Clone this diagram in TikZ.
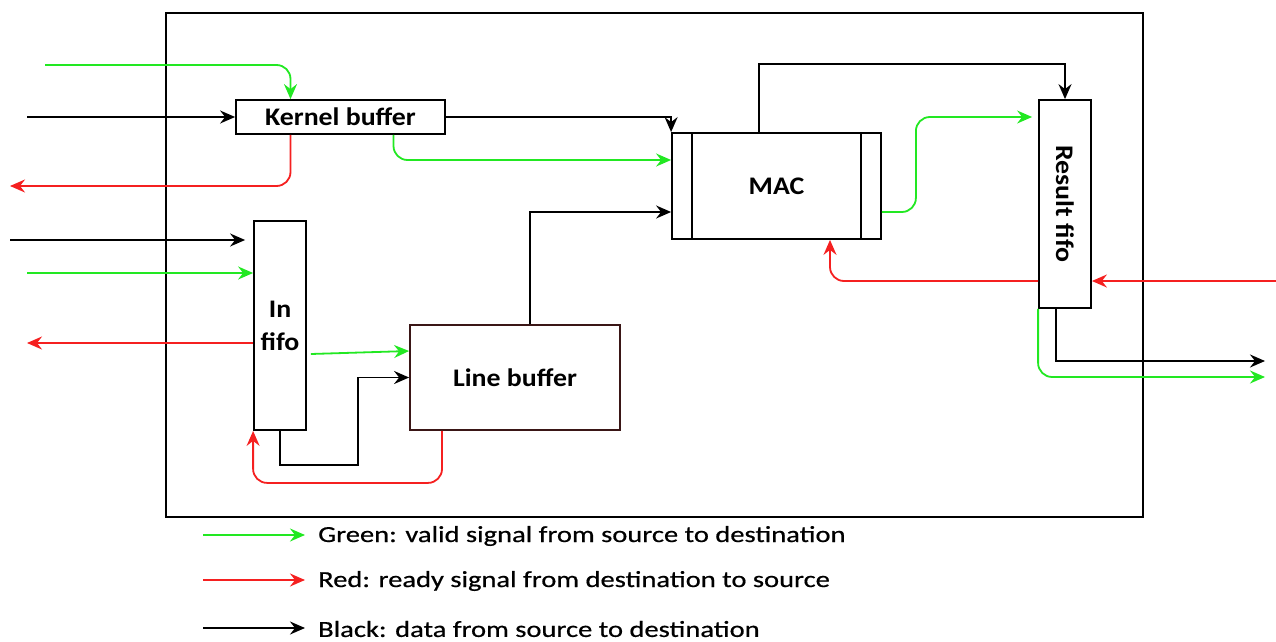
\documentclass[tikz,border=0pt]{standalone}
\usepackage{fontspec}
\setmainfont[FakeStretch=1.1]{Carlito}
\newfontfamily\legfont[FakeStretch=1.24,FakeBold=0.6]{Carlito}
\usetikzlibrary{arrows.meta,calc}
\definecolor{sgreen}{HTML}{22E822}
\definecolor{sred}{HTML}{F52020}
\definecolor{lbbord}{HTML}{3A1616}
\begin{document}
\begin{tikzpicture}[x=1pt,y=-1pt,
  box/.style={draw=black,line width=1.8pt,fill=white,inner sep=0pt,font=\bfseries\fontsize{25.3}{28}\selectfont,align=center},
  con/.style={line width=1.8pt,-{Stealth[length=15pt,width=13pt,inset=5pt]}},
  bk/.style={con,draw=black},
  gr/.style={con,draw=sgreen},
  rd/.style={con,draw=sred},
  rc/.style={rounded corners=14pt},
  legtext/.style={anchor=west,inner sep=0pt,font=\legfont\fontsize{23}{27}\selectfont}]
\useasboundingbox (0,0) rectangle (1276,642);
% outer frame
\node[draw=black,line width=1.8pt,minimum width=977pt,minimum height=504pt,inner sep=0pt] (frame) at (654.5,265) {};
% blocks
\node[box,minimum width=209pt,minimum height=34pt] (kb) at (340.5,117) {Kernel buffer};
\node[box,minimum width=209pt,minimum height=106pt] (mac) at (776.5,186) {MAC};
\draw[line width=1.8pt] ([xshift=21pt]mac.north west) -- ([xshift=21pt]mac.south west);
\draw[line width=1.8pt] ([xshift=-21pt]mac.north east) -- ([xshift=-21pt]mac.south east);
\node[box,minimum width=52pt,minimum height=208pt] (rf) at (1065,204) {};
\node[font=\bfseries\fontsize{25.3}{28}\selectfont,rotate=-90] (rft) at (rf.center) {Result fifo};
\node[box,minimum width=52pt,minimum height=209pt] (if) at (280,325.5) {In\\[5pt]fifo};
\node[box,draw=lbbord,minimum width=210pt,minimum height=105pt] (lb) at (515,377.5) {Line buffer};
% free ends
\coordinate (gkin) at (45,65);
\coordinate (bkin) at (27,117);
\coordinate (rkout) at (10,186);
\coordinate (bifin) at (10,240);
\coordinate (gifin) at (27,273);
\coordinate (rifout) at (27,343);
\coordinate (bturn) at (358,465);
\coordinate (rrfin) at (1276,281);
\coordinate (brfout) at (1265,361);
\coordinate (grfout) at (1265,377);
% kernel buffer connectors
\draw[gr,rc] (gkin) -| ([xshift=-50pt]kb.north);
\draw[bk] (bkin) -- (kb.west);
\draw[rd,rc] ([xshift=-50pt]kb.south) |- (rkout);
\draw[bk] (kb.east) -| (mac.north west);
\draw[gr,rc] ([xshift=53pt]kb.south) |- ([yshift=26pt]mac.west);
% line buffer to MAC
\draw[bk] ([xshift=15pt]lb.north) |- ([yshift=-26pt]mac.west);
% MAC to result fifo
\draw[bk] ([xshift=-17.5pt]mac.north) |- ([yshift=35pt]rf.north) -- (rf.north);
\draw[gr,rc,shorten >=6pt] ([yshift=-26pt]mac.east) -- ++(34,0) |- ([yshift=87pt]rf.west);
\draw[rd] (rrfin) -- ([yshift=-77pt]rf.east);
\draw[rd,rc] ([yshift=-77pt]rf.west) -| ([xshift=53.5pt]mac.south);
\draw[bk] ([xshift=-9pt]rf.south) |- (brfout);
\draw[gr,rc] (rf.south west) |- (grfout);
% in fifo connectors
\draw[bk,shorten >=8pt] (bifin) -- ([yshift=85.5pt]if.west);
\draw[gr] (gifin) -- ([yshift=52.5pt]if.west);
\draw[rd] ([yshift=-17.5pt]if.west) -- (rifout);
\draw[gr] ([yshift=-28.5pt,xshift=4pt]if.east) -- ([yshift=26.5pt]lb.west);
\draw[bk] (if.south) |- (bturn) -- (bturn |- lb.west) -- (lb.west);
\draw[rd,rc] ([xshift=-73pt]lb.south) -- ++(0,52) -| (if.south west);
% legend
\node[legtext] (lg) at (318,536) {Green: valid signal from source to destination};
\node[legtext] (lr) at (318,581) {Red: ready signal from destination to source};
\node[legtext] (lk) at (318,629) {Black: data from source to destination};
\coordinate (lga) at (203,535);
\coordinate (lra) at (203,580);
\coordinate (lka) at (203,628);
\draw[gr] (lga) -- ([xshift=-13pt,yshift=1pt]lg.west);
\draw[rd] (lra) -- ([xshift=-13pt,yshift=1pt]lr.west);
\draw[bk] (lka) -- ([xshift=-13pt,yshift=1pt]lk.west);
\end{tikzpicture}
\end{document}
